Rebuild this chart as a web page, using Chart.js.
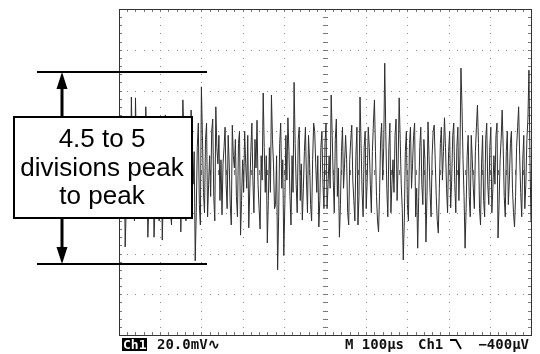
<!DOCTYPE html>
<html>
<head>
<meta charset="utf-8">
<script src="https://cdn.jsdelivr.net/npm/chart.js@4.4.1/dist/chart.umd.min.js"></script>
<style>
html, body { margin: 0; padding: 0; background: #fff; }
#wrap { width: 540px; height: 354px; }
</style>
</head>
<body>
<div id="wrap"><canvas id="scope" width="540" height="354"></canvas></div>
<script>
// trace, in divisions, one sample every 0.025 div
var sampleStep = 0.025;
var samples = [
  0.2,0.7,-0.6,-1.1,0.5,0.9,-1.84,-0.9,0.4,1.1,-0.3,-0.8,1.84,0.6,-0.5,-1.2,1.82,0.5,-0.2,-1.0,
  0.6,1.0,-0.9,-0.4,0.3,-0.5,1.6,0.7,-1.6,-0.8,0.5,1.2,-0.4,0.3,-1.6,-0.9,0.8,1.3,-0.7,-1.2,
  0.4,1.1,-1.67,-0.6,0.9,1.4,-0.2,-0.9,0.6,0.2,-1.0,-1.3,0.3,-0.4,0.9,1.3,-0.6,-1.1,0.5,0.9,
  -1.47,-0.3,1.77,0.9,-0.4,-1.2,0.7,1.0,-0.9,-0.2,1.52,0.8,-0.3,0.5,-2.18,-1.0,0.6,1.2,-0.8,-1.3,
  2.09,0.9,-0.5,-1.0,0.8,1.2,-1.1,-0.3,0.4,-0.6,1.0,1.3,-0.6,-1.2,1.6,0.6,0.2,0.9,-0.7,0.3,
  -1.05,0.2,0.6,1.1,-0.3,-0.9,0.9,0.2,-0.8,-1.3,1.15,0.4,0.1,0.8,-0.6,-1.1,0.7,1.0,-1.55,-0.7,
  0.3,-0.5,1.0,0.2,-0.4,0.9,-1.37,-0.4,0.5,1.2,-0.2,-1.0,0.8,0.1,1.27,-0.3,-0.9,-1.4,0.4,-0.2,
  1.94,0.6,-0.5,0.4,-1.74,-0.7,0.6,-0.5,1.89,0.8,0.2,-0.9,-0.8,0.4,-2.4,-1.1,0.7,1.2,-0.4,0.3,
  -2.05,-0.8,0.9,-0.2,1.33,0.5,-0.6,-1.3,0.4,-0.5,2.2,0.7,-0.3,-1.0,0.8,1.1,-0.7,0.2,-1.18,-0.4,
  0.5,1.1,-0.2,-1.0,0.9,0.3,-0.8,-1.2,0.3,1.2,1.0,0.2,-0.5,0.4,-1.35,-0.7,0.6,1.0,-0.3,-0.9,
  0.7,1.2,-0.9,-0.3,0.4,-0.4,1.89,0.9,-0.2,-1.0,0.8,1.3,-0.6,0.1,-1.6,-0.8,0.5,1.1,-0.4,0.2,
  0.9,0.3,-1.0,-1.3,0.3,0.8,1.15,-0.2,-0.7,-1.2,0.4,1.1,-1.30,-0.6,1.84,0.7,-0.5,-1.1,0.6,1.0,
  -0.9,-0.2,1.1,0.6,-0.3,-1.0,0.5,1.2,1.77,0.5,-0.6,-1.2,-1.47,-0.5,0.8,1.2,-0.2,0.6,2.67,1.0,
  -0.4,-1.1,0.6,1.2,-1.0,-0.3,0.3,-0.5,0.9,1.3,-0.7,0.2,1.82,0.8,-0.3,-0.9,-2.16,-1.2,0.5,1.0,
  -0.8,-1.2,0.7,1.1,-0.4,0.2,0.9,1.2,-1.1,-0.4,-1.87,-0.6,0.6,1.1,-0.3,-0.8,0.8,0.3,-1.72,-0.6,
  1.23,0.4,-0.5,-1.1,0.4,1.0,1.15,0.3,-0.6,-1.2,-1.5,-0.4,0.7,1.1,-0.2,0.5,1.33,0.6,-0.4,-1.0,
  0.5,1.0,-0.88,-0.2,0.9,1.2,-0.3,-1.0,0.6,1.1,-0.7,0.4,2.55,1.6,0.3,-0.6,-1.87,-0.9,0.4,0.9,
  -0.6,-1.1,0.9,0.3,-0.4,-0.9,0.5,1.1,1.64,0.7,-0.9,-1.3,0.2,0.9,-0.7,-1.1,0.8,1.2,-0.3,-0.8,
  0.6,1.1,-1.0,-0.4,0.4,-0.3,0.9,1.2,-1.62,-0.8,0.3,0.8,1.52,0.6,-0.6,-1.1,0.5,1.0,-0.8,-0.2,
  0.7,1.0,-0.4,-1.0,-1.35,-0.6,0.6,1.1,1.6,0.4,-0.5,-1.1,0.3,0.9,-0.9,-0.3,0.8,1.3,2.5,0.3,
  -1.23
];
var divsX = 10;
var divsY = 8;
var peakLevels = [2.45, -2.26];
var noteLines = ['4.5 to 5', 'divisions peak', 'to peak'];
var chLabel = 'Ch1';
var voltsLabel = '20.0mV\u223F';
var timeLabel = 'M 100\u00B5s';
var trigLabel = 'Ch1';
var levelLabel = '\u2212400\u00B5V';

var points = [];
for (var i = 0; i < samples.length; i++) {
    points.push({x: i * sampleStep, y: samples[i]});
}

var graticule = {
    id: 'graticule',
    beforeDatasetsDraw: function(chart) {
        var ctx = chart.ctx, xs = chart.scales.x, ys = chart.scales.y;
        var a = chart.chartArea;
        var cx = xs.getPixelForValue(divsX / 2), cy = ys.getPixelForValue(0);
        ctx.save();
        ctx.fillStyle = '#8a8a8a';
        // dotted division lines
        for (var gx = 1; gx < divsX; gx++) {
            var px = Math.round(xs.getPixelForValue(gx));
            for (var f = 0; f <= divsY * 5; f++) {
                var py = Math.round(ys.getPixelForValue(-divsY / 2 + f / 5));
                ctx.fillRect(px, py, 1, 1);
            }
        }
        for (var gy = 1; gy < divsY; gy++) {
            var py2 = Math.round(ys.getPixelForValue(-divsY / 2 + gy));
            for (var f2 = 0; f2 <= divsX * 5; f2++) {
                var px2 = Math.round(xs.getPixelForValue(f2 / 5));
                ctx.fillRect(px2, py2, 1, 1);
            }
        }
        // minor ticks on centre lines and on the border
        ctx.strokeStyle = '#777';
        ctx.lineWidth = 1;
        ctx.beginPath();
        for (var t = 0; t <= divsX * 5; t++) {
            var tx = Math.round(xs.getPixelForValue(t / 5)) + 0.5;
            ctx.moveTo(tx, Math.round(cy) - 2); ctx.lineTo(tx, Math.round(cy) + 3);
            ctx.moveTo(tx, a.top); ctx.lineTo(tx, a.top + 3);
            ctx.moveTo(tx, a.bottom); ctx.lineTo(tx, a.bottom - 3);
        }
        for (var u = 0; u <= divsY * 5; u++) {
            var ty = Math.round(ys.getPixelForValue(-divsY / 2 + u / 5)) + 0.5;
            ctx.moveTo(Math.round(cx) - 2, ty); ctx.lineTo(Math.round(cx) + 3, ty);
            ctx.moveTo(a.left, ty); ctx.lineTo(a.left + 3, ty);
            ctx.moveTo(a.right, ty); ctx.lineTo(a.right - 3, ty);
        }
        ctx.stroke();
        // border
        ctx.strokeStyle = '#333';
        ctx.strokeRect(Math.round(a.left) + 0.5, Math.round(a.top) + 0.5,
                       Math.round(a.right - a.left), Math.round(a.bottom - a.top));
        ctx.restore();
    }
};

function arrow(ctx, x, from, to) {
    var dir = to < from ? 1 : -1;
    ctx.beginPath();
    ctx.moveTo(x, from);
    ctx.lineTo(x, to + dir * 14);
    ctx.lineWidth = 3;
    ctx.stroke();
    ctx.beginPath();
    ctx.moveTo(x, to);
    ctx.lineTo(x - 5.5, to + dir * 17);
    ctx.lineTo(x + 5.5, to + dir * 17);
    ctx.closePath();
    ctx.fill();
}

var notes = {
    id: 'notes',
    afterDraw: function(chart) {
        var ctx = chart.ctx, ys = chart.scales.y;
        var top = Math.round(ys.getPixelForValue(peakLevels[0]));
        var bot = Math.round(ys.getPixelForValue(peakLevels[1]));
        ctx.save();
        ctx.strokeStyle = '#000';
        ctx.fillStyle = '#000';
        ctx.lineWidth = 2;
        ctx.beginPath();
        ctx.moveTo(37, top); ctx.lineTo(207, top);
        ctx.moveTo(37, bot); ctx.lineTo(207, bot);
        ctx.stroke();
        // text box
        ctx.fillStyle = '#fff';
        ctx.fillRect(13, 116, 179, 102);
        ctx.lineWidth = 2;
        ctx.strokeRect(14, 117, 178, 101);
        ctx.fillStyle = '#000';
        arrow(ctx, 62, 116, top);
        arrow(ctx, 62, 219, bot);
        ctx.font = '26px "Liberation Sans", Arial, sans-serif';
        ctx.textAlign = 'center';
        ctx.textBaseline = 'alphabetic';
        ctx.fillText(noteLines[0], 102, 147);
        ctx.fillText(noteLines[1], 102, 176);
        ctx.fillText(noteLines[2], 102, 204);
        // readout line
        ctx.textAlign = 'left';
        ctx.fillRect(122, 338, 25, 13);
        ctx.fillStyle = '#fff';
        ctx.font = 'bold 13px "DejaVu Sans Mono", monospace';
        ctx.fillText(chLabel, 123, 349);
        ctx.fillStyle = '#111';
        ctx.font = 'bold 14px "DejaVu Sans Mono", monospace';
        ctx.fillText(voltsLabel, 157, 349);
        ctx.fillText(timeLabel, 345, 349);
        ctx.fillText(trigLabel, 418, 349);
        ctx.lineWidth = 1.8;
        ctx.beginPath();
        ctx.moveTo(450, 340); ctx.lineTo(456, 340); ctx.lineTo(461, 349);
        ctx.stroke();
        ctx.textAlign = 'right';
        ctx.fillText(levelLabel, 529, 349);
        ctx.restore();
    }
};

new Chart(document.getElementById('scope').getContext('2d'), {
    type: 'line',
    data: {
        datasets: [{
            data: points,
            borderColor: '#2e2e2e',
            borderWidth: 1,
            pointRadius: 0,
            tension: 0
        }]
    },
    options: {
        responsive: false,
        animation: false,
        layout: {padding: {left: 119, right: 9, top: 9, bottom: 19}},
        plugins: {legend: {display: false}, tooltip: {enabled: false}},
        scales: {
            x: {type: 'linear', min: 0, max: divsX, display: false},
            y: {min: -divsY / 2, max: divsY / 2, display: false}
        }
    },
    plugins: [graticule, notes]
});
</script>
</body>
</html>
